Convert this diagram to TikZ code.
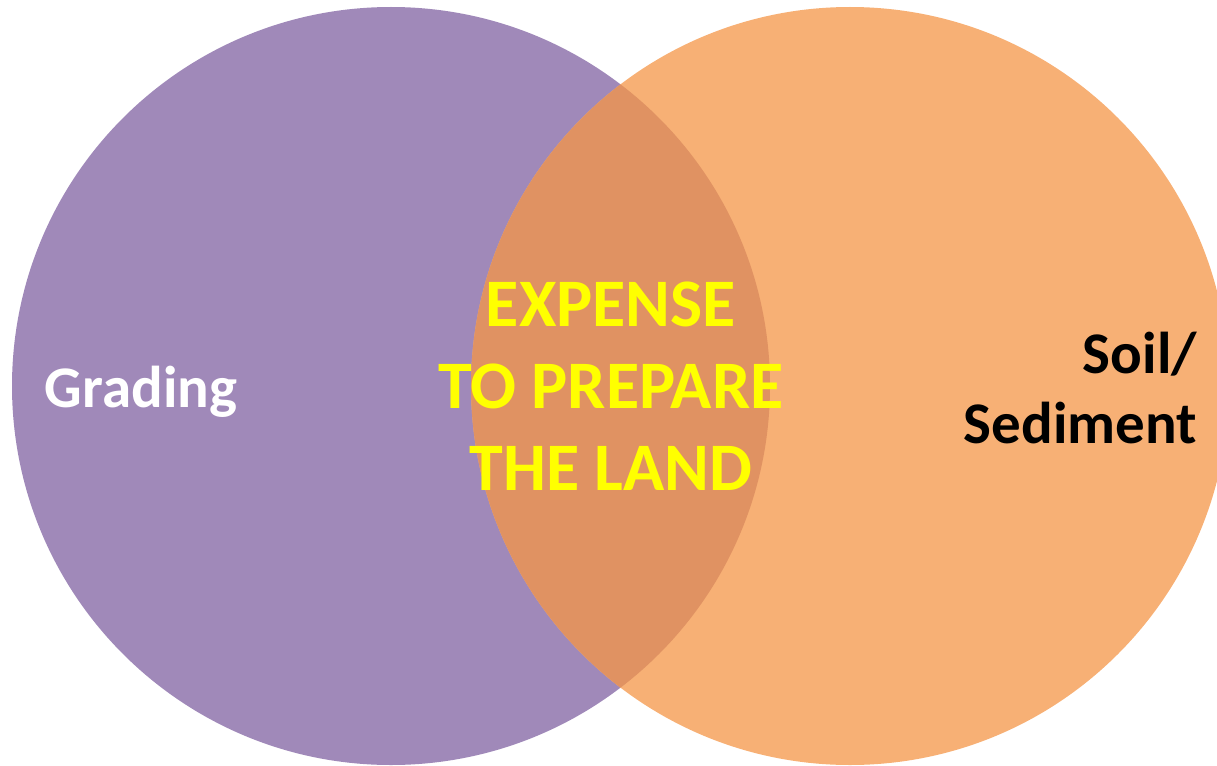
\documentclass[tikz,border=0pt]{standalone}
\usepackage{fontspec}
\setmainfont{Carlito}
\definecolor{purp}{HTML}{A089B9}
\definecolor{oran}{HTML}{F7B075}
\definecolor{overl}{HTML}{E09262}
\definecolor{yell}{HTML}{FFFF00}
\tikzset{
  lbl/.style={inner sep=0pt, font=\bfseries\fontsize{59}{70}\selectfont},
}
\begin{document}
\begin{tikzpicture}[x=1pt,y=-1pt]
\useasboundingbox (0,0) rectangle (1217,765);
\fill[purp] (391,386) circle (379);
\fill[oran] (850,386) circle (379);
\begin{scope}
  \clip (391,386) circle (379);
  \fill[overl] (850,386) circle (379);
\end{scope}
\node[lbl, text=white, anchor=base] (grading) at (141,407) {Grading};
\node[lbl, text=yell, align=center, anchor=base, font=\bfseries\fontsize{68}{82}\selectfont] (mid) at (611,490) {EXPENSE\\TO PREPARE\\THE LAND};
\node[lbl, text=black, align=right, anchor=base east] (soil) at (1197,443) {Soil/\\Sediment};
\end{tikzpicture}
\end{document}
